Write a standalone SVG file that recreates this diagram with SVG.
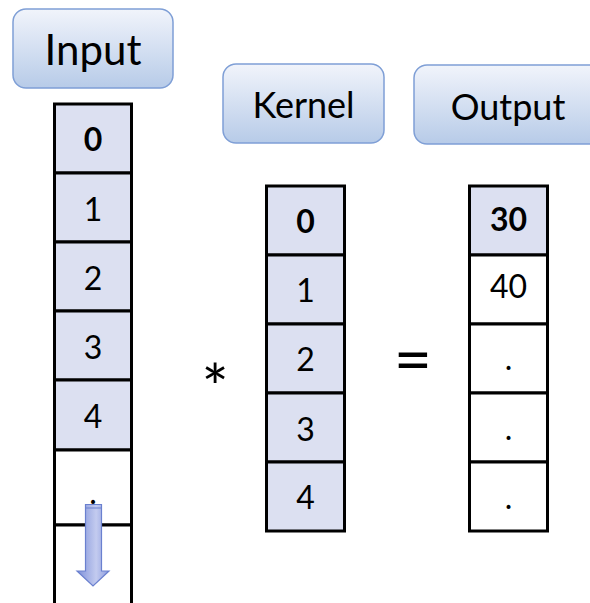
<svg xmlns="http://www.w3.org/2000/svg" width="590" height="603" viewBox="0 0 590 603">
  <defs>
    <linearGradient id="boxGrad" x1="0" y1="0" x2="0" y2="1">
      <stop offset="0" stop-color="#f1f4fb"/>
      <stop offset="1" stop-color="#b7cbe8"/>
    </linearGradient>
    <linearGradient id="arrowGrad" x1="0" y1="0" x2="1" y2="0">
      <stop offset="0" stop-color="#7e90d9"/>
      <stop offset="0.6" stop-color="#c3cbef"/>
      <stop offset="1" stop-color="#8a9ade"/>
    </linearGradient>
    <style>
      .label { fill: url(#boxGrad); stroke: #7f9fd6; stroke-width: 1.5; }
      .ltext { font-family: Lato, "Open Sans", sans-serif; fill: #000; text-anchor: middle; }
      .cell { stroke: #000; stroke-width: 3; }
      .on { fill: #dce0f1; }
      .off { fill: #ffffff; }
      .ctext { font-family: Lato, "Open Sans", sans-serif; font-size: 32px; fill: #000; text-anchor: middle; }
      .b { font-weight: bold; }
      .op { font-family: Lato, "Open Sans", sans-serif; fill: #000; text-anchor: middle; }
    </style>
  </defs>

  <g id="input-label">
    <rect class="label" x="13" y="9" width="160" height="79" rx="13"/>
    <text class="ltext" x="93" y="65" font-size="42">Input</text>
  </g>
  <g id="kernel-label">
    <rect class="label" x="223" y="64" width="161" height="79" rx="13"/>
    <text class="ltext" x="303.5" y="118" font-size="36">Kernel</text>
  </g>
  <g id="output-label">
    <rect class="label" x="414" y="65" width="190" height="79" rx="13"/>
    <text class="ltext" x="508" y="120" font-size="36">Output</text>
  </g>

  <g id="input-column">
    <rect class="cell on" x="54.5" y="104" width="77" height="69"/>
    <rect class="cell on" x="54.5" y="173" width="77" height="69"/>
    <rect class="cell on" x="54.5" y="242" width="77" height="69"/>
    <rect class="cell on" x="54.5" y="311" width="77" height="69"/>
    <rect class="cell on" x="54.5" y="380" width="77" height="70"/>
    <rect class="cell off" x="54.5" y="450" width="77" height="75"/>
    <rect class="cell off" x="54.5" y="525" width="77" height="90"/>
    <text class="ctext b" x="93" y="151">0</text>
    <text class="ctext" x="93" y="221">1</text>
    <text class="ctext" x="93" y="290">2</text>
    <text class="ctext" x="93" y="359">3</text>
    <text class="ctext" x="93" y="428">4</text>
    <text class="ctext" x="93" y="504">.</text>
  </g>

  <g id="kernel-column">
    <rect class="cell on" x="266.5" y="186" width="78" height="69"/>
    <rect class="cell on" x="266.5" y="255" width="78" height="69"/>
    <rect class="cell on" x="266.5" y="324" width="78" height="69"/>
    <rect class="cell on" x="266.5" y="393" width="78" height="69"/>
    <rect class="cell on" x="266.5" y="462" width="78" height="69"/>
    <text class="ctext b" x="305.5" y="233">0</text>
    <text class="ctext" x="305.5" y="302">1</text>
    <text class="ctext" x="305.5" y="371">2</text>
    <text class="ctext" x="305.5" y="441">3</text>
    <text class="ctext" x="305.5" y="509">4</text>
  </g>

  <g id="output-column">
    <rect class="cell on" x="469.5" y="186" width="78" height="69"/>
    <rect class="cell off" x="469.5" y="255" width="78" height="69"/>
    <rect class="cell off" x="469.5" y="324" width="78" height="69"/>
    <rect class="cell off" x="469.5" y="393" width="78" height="69"/>
    <rect class="cell off" x="469.5" y="462" width="78" height="69"/>
    <text class="ctext b" x="508.5" y="231">30</text>
    <text class="ctext" x="508.5" y="298">40</text>
    <text class="ctext" x="508.5" y="370">.</text>
    <text class="ctext" x="508.5" y="440">.</text>
    <text class="ctext" x="508.5" y="509">.</text>
  </g>

  <g id="operators">
    <text class="op" x="215" y="411" font-size="64">*</text>
    <text class="op" x="413" y="383" font-size="66">=</text>
  </g>

  <g id="connectors">
    <path d="M85.5,504.5 H101.5 V571 H109 L93,586 L77,571 H85.5 Z" fill="url(#arrowGrad)" stroke="#6a80cf" stroke-width="1.2"/>
    <line x1="86" y1="508" x2="101" y2="508" stroke="#6a80cf" stroke-width="1"/>
  </g>
</svg>
